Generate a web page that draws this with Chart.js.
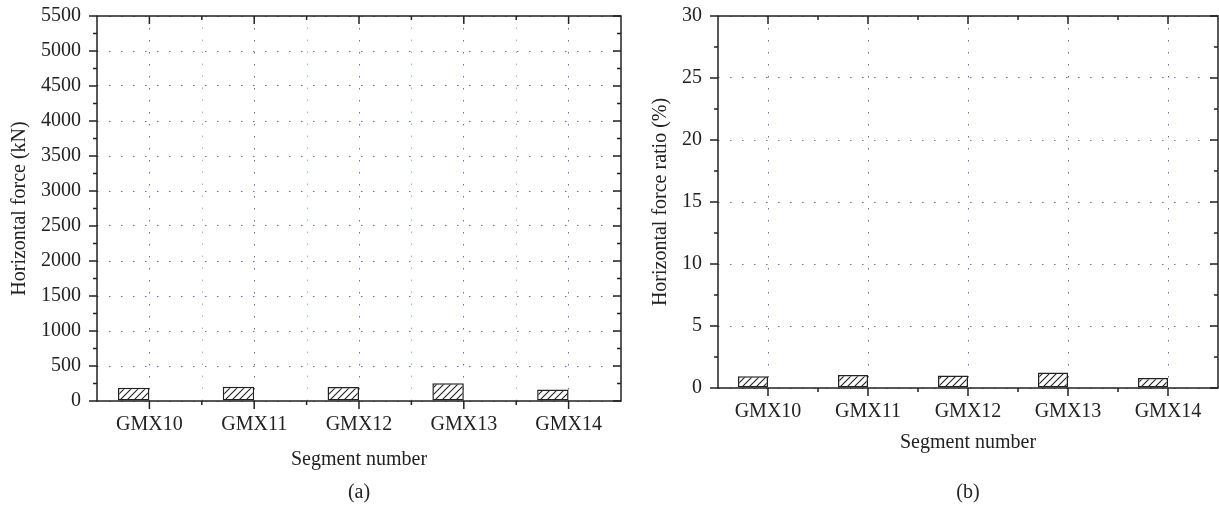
<!DOCTYPE html>
<html>
<head>
<meta charset="utf-8">
<script src="https://cdn.jsdelivr.net/npm/chart.js@4.4.1/dist/chart.umd.min.js"></script>
<style>
  html, body { margin: 0; padding: 0; background: #fff; }
  #wrap { position: relative; width: 1219px; height: 508px; overflow: hidden; }
  .box { position: absolute; top: -12px; height: 520px; }
  .cap { position: absolute; top: 480px; font: 20px "Liberation Serif", serif; color: #222;
         width: 60px; text-align: center; }
</style>
</head>
<body>
<div id="wrap">
  <div class="box" style="left:0;width:630px"><canvas id="chartA"></canvas></div>
  <div class="box" style="left:630px;width:589px"><canvas id="chartB"></canvas></div>
  <div class="cap" style="left:329px">(a)</div>
  <div class="cap" style="left:938px">(b)</div>
</div>
<script>
/* =========================
   DATA
========================= */
const segments = ["GMX10", "GMX11", "GMX12", "GMX13", "GMX14"];
const forceKN = [190, 205, 200, 255, 165];        // horizontal force (kN)
const forceRatio = [0.95, 1.05, 1.0, 1.25, 0.8];  // horizontal force ratio (%)
const spacer = [null, null, null, null, null];    // empty slot so bars sit left of the tick

/* =========================
   STYLE
========================= */
const FONT = "'Liberation Serif', 'Times New Roman', serif";
const INK = "#222";
const BLUE_DOT = "#6a6ad6";
const GREEN_DOT = "#7fd27f";
const DOT = [1.5, 10.5];

function hatch() {
  const c = document.createElement("canvas");
  c.width = 7; c.height = 7;
  const g = c.getContext("2d");
  g.fillStyle = "#fff";
  g.fillRect(0, 0, 7, 7);
  g.strokeStyle = INK;
  g.lineWidth = 1.1;
  g.beginPath();
  g.moveTo(-1, 8); g.lineTo(8, -1);
  g.moveTo(-1, 1); g.lineTo(1, -1);
  g.moveTo(6, 8); g.lineTo(8, 6);
  g.stroke();
  return g.createPattern(c, "repeat");
}

/* =========================
   FRAME + TICK MARKS
========================= */
const framePlugin = {
  id: "frame",
  beforeDatasetsDraw(chart, args, opts) {
    if (!opts.halfGrid) return;
    const { ctx, chartArea: { top, bottom } } = chart;
    const x = chart.scales.x;
    ctx.save();
    ctx.strokeStyle = opts.halfGrid;
    ctx.lineWidth = 1;
    ctx.setLineDash(DOT);
    for (let i = 0; i < segments.length - 1; i++) {
      const px = Math.round((x.getPixelForValue(i) + x.getPixelForValue(i + 1)) / 2) + 0.5;
      ctx.beginPath();
      ctx.moveTo(px, bottom);
      ctx.lineTo(px, top);
      ctx.stroke();
    }
    ctx.restore();
  },
  afterDraw(chart, args, opts) {
    const { ctx, chartArea: { left, right, top, bottom } } = chart;
    const x = chart.scales.x, y = chart.scales.y;
    ctx.save();
    ctx.strokeStyle = INK;
    ctx.lineWidth = 1.5;
    ctx.setLineDash([]);
    ctx.strokeRect(left, top, right - left, bottom - top);

    ctx.beginPath();
    // y ticks: point left on both sides
    for (let v = y.min; v <= y.max + 1e-9; v += opts.minor) {
      const py = y.getPixelForValue(v);
      const len = Math.abs(v / opts.major - Math.round(v / opts.major)) < 1e-6 ? 8 : 4;
      ctx.moveTo(left, py); ctx.lineTo(left - len, py);
      ctx.moveTo(right, py); ctx.lineTo(right - len, py);
    }
    // x ticks: point down on both sides
    for (let i = 0; i < segments.length; i++) {
      const px = x.getPixelForValue(i);
      ctx.moveTo(px, bottom); ctx.lineTo(px, bottom + 8);
      ctx.moveTo(px, top); ctx.lineTo(px, top + 8);
      const h = (x.getPixelForValue(i) + x.getPixelForValue(i + 1)) / 2;
      if (i < segments.length - 1) {
        ctx.moveTo(h, bottom); ctx.lineTo(h, bottom + 4);
        ctx.moveTo(h, top); ctx.lineTo(h, top + 4);
      }
    }
    ctx.stroke();
    ctx.restore();
  },
};

/* =========================
   GENERIC DRAW FUNCTION
========================= */
function drawChart(canvasId, cfg) {
  const canvas = document.getElementById(canvasId);
  return new Chart(canvas, {
    type: "bar",
    data: {
      labels: segments,
      datasets: [
        {
          data: cfg.values,
          backgroundColor: hatch(),
          borderColor: INK,
          borderWidth: 1.5,
          borderSkipped: false,
          categoryPercentage: cfg.catPct,
          barPercentage: 1,
        },
        { data: spacer, categoryPercentage: cfg.catPct, barPercentage: 1 },
      ],
    },
    options: {
      responsive: true,
      maintainAspectRatio: false,
      animation: false,
      layout: { padding: { top: 5, right: cfg.padRight, bottom: 0, left: 0 } },
      plugins: {
        legend: { display: false },
        tooltip: { enabled: false },
        frame: { major: cfg.step, minor: cfg.step / 2, halfGrid: cfg.halfGrid },
      },
      scales: {
        x: {
          offset: true,
          grid: { offset: false, color: BLUE_DOT, lineWidth: 1, drawTicks: false },
          border: { display: false, dash: DOT },
          ticks: { color: INK, padding: 12, font: { family: FONT, size: 20 } },
          title: {
            display: true,
            text: "Segment number",
            color: INK,
            font: { family: FONT, size: 20 },
            padding: { top: 0, bottom: cfg.xTitlePad },
          },
          afterFit: (s) => { s.height = cfg.xHeight; },
        },
        y: {
          min: 0,
          max: cfg.max,
          grid: { color: BLUE_DOT, lineWidth: 1, drawTicks: false },
          border: { display: false, dash: DOT },
          ticks: {
            stepSize: cfg.step,
            color: INK,
            padding: 16,
            font: { family: FONT, size: 20 },
            callback: (v) => String(v),
          },
          title: {
            display: true,
            text: cfg.yTitle,
            color: INK,
            font: { family: FONT, size: 20 },
            padding: { top: cfg.yTitlePad, bottom: 0 },
          },
          afterFit: (s) => { s.width = cfg.yWidth; },
        },
      },
    },
    plugins: [framePlugin],
  });
}

/* =========================
   RENDER
========================= */
drawChart("chartA", {
  values: forceKN,
  max: 5500,
  step: 500,
  yTitle: "Horizontal force (kN)",
  catPct: 0.6,
  yWidth: 97,
  xHeight: 107,
  padRight: 9,
  xTitlePad: 36,
  yTitlePad: 8,
  halfGrid: GREEN_DOT,
});

drawChart("chartB", {
  values: forceRatio,
  max: 30,
  step: 5,
  yTitle: "Horizontal force ratio (%)",
  catPct: 0.6,
  yWidth: 88,
  xHeight: 120,
  padRight: 1,
  xTitlePad: 53,
  yTitlePad: 19,
  halfGrid: null,
});
</script>
</body>
</html>
